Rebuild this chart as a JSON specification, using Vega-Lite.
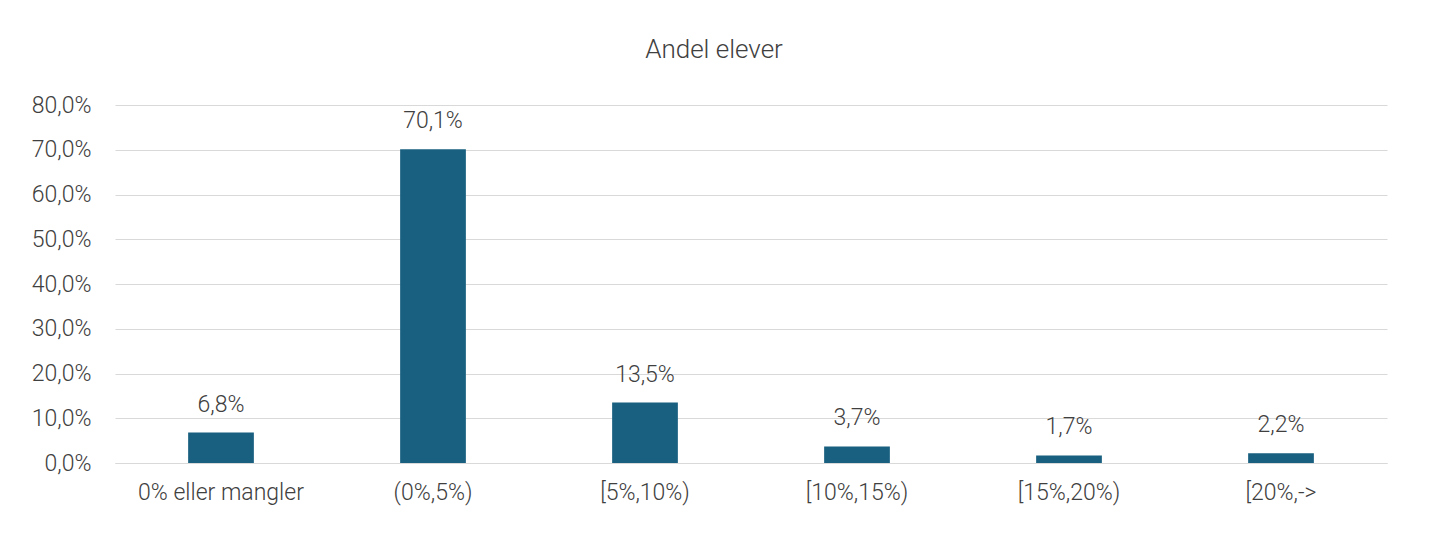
{
  "$schema": "https://vega.github.io/schema/vega-lite/v6.json",
  "autosize": {"type": "none"},
  "width": 1272,
  "height": 358,
  "padding": {"left": 115, "top": 105, "right": 53, "bottom": 76},
  "background": "white",
  "title": {
    "text": "Andel elever",
    "anchor": "middle",
    "frame": "group",
    "dx": -37,
    "offset": 31,
    "font": "Roboto",
    "fontWeight": 300,
    "fontSize": 26,
    "color": "#404040"
  },
  "data": {
    "values": [
      {"kategori": "0% eller mangler", "andel": 6.8, "label": "6,8%"},
      {"kategori": "(0%,5%)", "andel": 70.1, "label": "70,1%"},
      {"kategori": "[5%,10%)", "andel": 13.5, "label": "13,5%"},
      {"kategori": "[10%,15%)", "andel": 3.7, "label": "3,7%"},
      {"kategori": "[15%,20%)", "andel": 1.7, "label": "1,7%"},
      {"kategori": "[20%,->", "andel": 2.2, "label": "2,2%"}
    ]
  },
  "encoding": {
    "x": {
      "field": "kategori",
      "type": "nominal",
      "sort": null,
      "scale": {"paddingInner": 0.69, "paddingOuter": 0.345},
      "axis": {
        "title": null,
        "labelAngle": 0,
        "domain": true,
        "domainColor": "#d9d9d9",
        "ticks": false,
        "labelPadding": 18,
        "labelFont": "Roboto",
        "labelFontWeight": 300,
        "labelFontSize": 23,
        "labelColor": "#404040"
      }
    },
    "y": {
      "field": "andel",
      "type": "quantitative",
      "scale": {"domain": [0, 80], "nice": false},
      "axis": {
        "title": null,
        "values": [0, 10, 20, 30, 40, 50, 60, 70, 80],
        "labelExpr": "replace(format(datum.value, '.1f'), '.', ',') + '%'",
        "domain": false,
        "ticks": false,
        "labelPadding": 24,
        "labelFont": "Roboto",
        "labelFontWeight": 300,
        "labelFontSize": 23,
        "labelColor": "#404040",
        "gridColor": "#d9d9d9",
        "gridWidth": 1
      }
    }
  },
  "layer": [
    {"mark": {"type": "bar", "color": "#185f80"}},
    {
      "mark": {
        "type": "text",
        "baseline": "bottom",
        "dy": -16,
        "font": "Roboto",
        "fontWeight": 300,
        "fontSize": 23,
        "color": "#404040"
      },
      "encoding": {"text": {"field": "label"}}
    }
  ],
  "config": {"view": {"stroke": null}}
}
